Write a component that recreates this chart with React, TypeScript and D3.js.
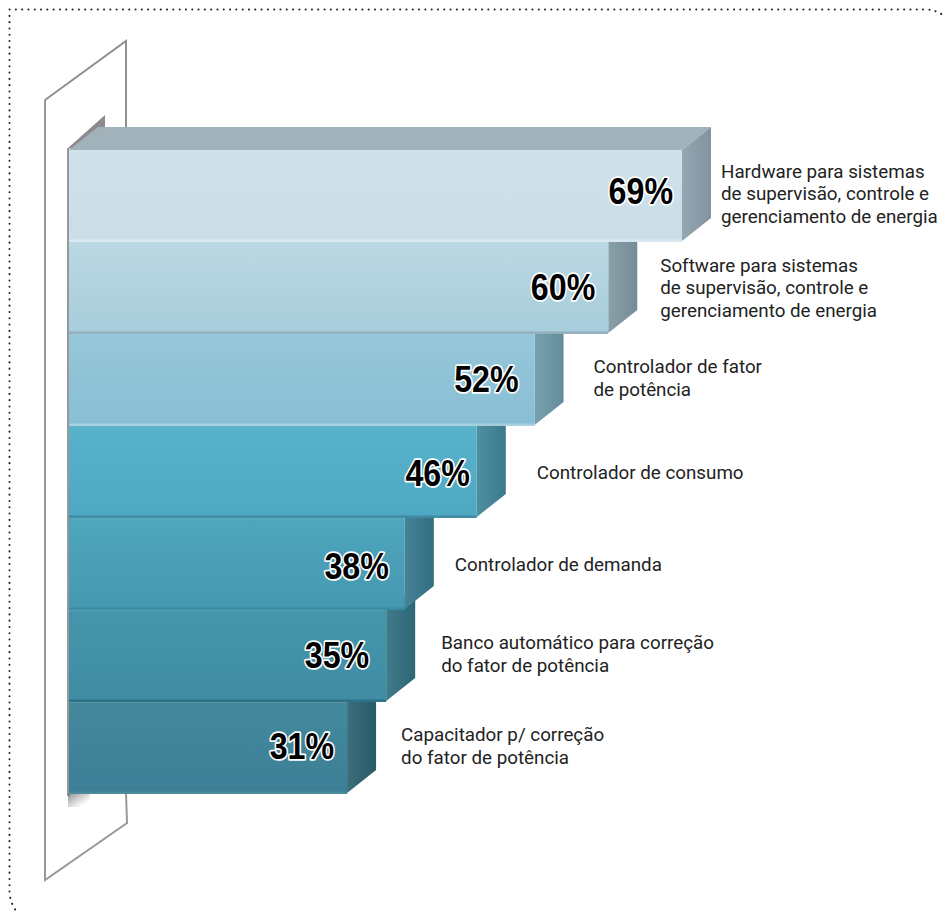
import React from "react";
import * as d3 from "d3";

const categories = ["hw", "sw", "fp", "cons", "dem", "banco", "cap"];
const percentLabels = ["69%", "60%", "52%", "46%", "38%", "35%", "31%"];
// bar lengths (in percent units)
const measuredValues = [69, 60.7, 52.4, 45.9, 37.8, 35.7, 31.3];
const descriptions = [
  ["Hardware para sistemas", "de supervisão, controle e", "gerenciamento de energia"],
  ["Software para sistemas", "de supervisão, controle e", "gerenciamento de energia"],
  ["Controlador de fator", "de potência"],
  ["Controlador de consumo"],
  ["Controlador de demanda"],
  ["Banco automático para correção", "do fator de potência"],
  ["Capacitador p/ correção", "do fator de potência"],
];
const frontTop = ["#d0e1ea", "#bad8e2", "#97c7da", "#58b2ca", "#4fa6bd", "#4596ac", "#43899b"];
const frontBottom = ["#cadde8", "#a8cddb", "#88bed3", "#4fa8c3", "#4598b0", "#3f8ca3", "#3d7f97"];
const sideColors = ["#8ba0ac", "#7f98a3", "#6c98a8", "#3f8598", "#37788c", "#316f80", "#2b6270"];
const edgeColors = ["#dbe9f0", "#93b0bd", "#a6cfdf", "#3f8ba3", "#3c8ca5", "#2f7388", "#4a8a99"];

// layout nudges for text placed by hand in the original artwork
const pctInset = [9, 13, 16, 7, 16, 17, 13];
const pctDrop = [9, 13, 13, 14, 15, 12, 11];
const descGap = [10, 23, 30, 31, 21, 26, 25];
const descDrop = [0, 2, 0, 2, 2, 0, 0];

const W = 943, H = 913;
const DX = 29, DY = -23;

export default function App() {
  const x = d3.scaleLinear().domain([0, 69]).range([69, 682]);
  const y = d3.scaleBand<string>().domain(categories).range([150, 793]).paddingInner(0.012);
  const order = d3.range(categories.length).reverse();
  const line = d3.line();
  return (
    <svg width={W} height={H} style={{ position: "absolute", left: 0, top: 0 }}>
      <defs>
        {categories.map((c, i) => (
          <linearGradient key={c} id={`g${i}`} x1="0" y1="0" x2="0" y2="1">
            <stop offset="0" stopColor={frontTop[i]} />
            <stop offset="1" stopColor={frontBottom[i]} />
          </linearGradient>
        ))}
        <linearGradient id="shadow" x1="0" y1="0" x2="1" y2="1">
          <stop offset="0" stopColor="#666" stopOpacity="0.75" />
          <stop offset="0.8" stopColor="#888" stopOpacity="0" />
        </linearGradient>
        <linearGradient id="sideShade" x1="0" y1="0" x2="1" y2="0">
          <stop offset="0" stopColor="#fff" stopOpacity="0.08" />
          <stop offset="1" stopColor="#000" stopOpacity="0.08" />
        </linearGradient>
        <filter id="soft" x="-5%" y="-5%" width="110%" height="110%">
          <feGaussianBlur stdDeviation="0.5" />
        </filter>
      </defs>
      <rect width={W} height={H} fill="#fff" />
      <path
        d="M9.5 9.5H925Q935 9.5 943 15M9.5 9.5V892Q10 903 17 912"
        fill="none" stroke="#222" strokeWidth={2} strokeDasharray="0.1 6.2" strokeLinecap="round"
      />
      <g filter="url(#soft)">
        <path d={line([[45, 100], [126, 41], [126, 128]])!} fill="none" stroke="#8f8f8f" strokeWidth={2} />
        <path d={line([[126, 793], [127, 823], [45, 880], [45, 100]])!} fill="none" stroke="#999" strokeWidth={2} />
        <path d={line([[68, 148], [105, 115], [105, 128], [80, 150]])!} fill="#8f8a8d" />
        <rect x={67} y={148} width={2.5} height={648} fill="#98979a" />
      </g>
      <rect x={68} y={793} width={22} height={14} fill="url(#shadow)" />
      {/* top face of the highest bar */}
      <path
        d={line([
          [x(0), y(categories[0])!],
          [x(0) + DX, y(categories[0])! + DY],
          [x(measuredValues[0]) + DX, y(categories[0])! + DY],
          [x(measuredValues[0]), y(categories[0])!],
        ])!}
        fill="#a1b2bb"
      />
      {order.map((i) => {
        const c = categories[i];
        const xr = x(measuredValues[i]);
        const top = y(c)!;
        const bh = y.bandwidth();
        const side = line([
          [xr, top],
          [xr + DX, top + DY],
          [xr + DX, top + bh + DY],
          [xr, top + bh],
        ])!;
        return (
          <g key={c}>
            <path d={side} fill={sideColors[i]} />
            <path d={side} fill="url(#sideShade)" />
            <rect x={x(0)} y={top} width={xr - x(0)} height={bh} fill={`url(#g${i})`} />
            <rect x={x(0)} y={top + bh - 1.5} width={xr - x(0)} height={2.5} fill={edgeColors[i]} />
            <text
              transform={`translate(${xr - pctInset[i]},${top + bh / 2 + pctDrop[i]}) scale(0.87,1)`}
              textAnchor="end"
              fontFamily="'Liberation Sans'"
              fontWeight={700} fontSize={37}
              fill="#000" stroke="#fff" strokeWidth={3.5} paintOrder="stroke" strokeLinejoin="round"
            >
              {percentLabels[i]}
            </text>
            {descriptions[i].map((t, k) => (
              <text
                key={k}
                x={xr + DX + descGap[i]}
                y={top + bh / 2 + descDrop[i] + 5 + (k - (descriptions[i].length - 1) / 2) * 22.5}
                fontFamily="Roboto" fontSize={18.8} fill="#222"
              >
                {t}
              </text>
            ))}
          </g>
        );
      })}
    </svg>
  );
}
